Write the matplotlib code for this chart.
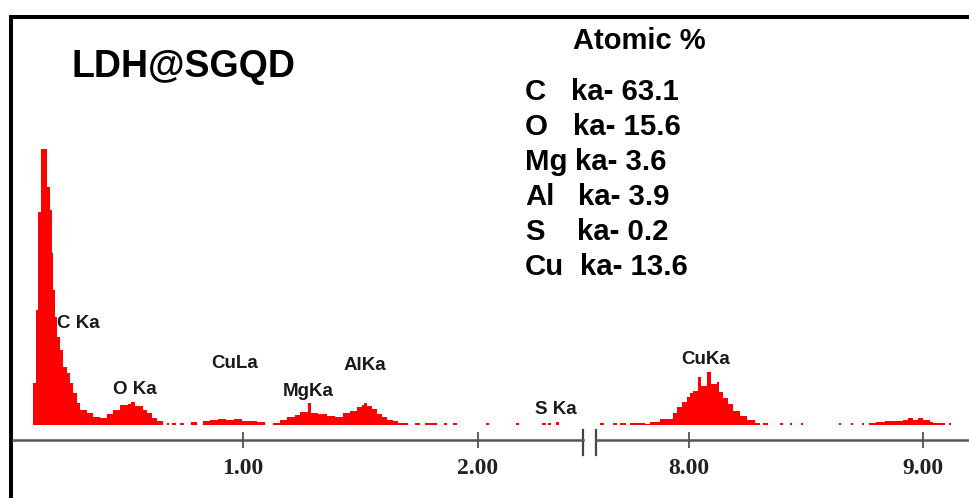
import matplotlib
matplotlib.use("Agg")
import matplotlib.pyplot as plt

plt.rcParams['font.family'] = ['Liberation Sans', 'DejaVu Sans']

# EDS spectrum, low energy part (keV start of each step, counts)
low_kev = [0.106, 0.119, 0.128, 0.140, 0.166, 0.179, 0.187, 0.191, 0.200, 0.209,
           0.221, 0.234, 0.251, 0.264, 0.277, 0.294, 0.306, 0.336, 0.362, 0.391,
           0.421, 0.447, 0.477, 0.511, 0.523, 0.540, 0.574, 0.591, 0.613, 0.634,
           0.660, 0.677, 0.685, 0.698, 0.715, 0.732, 0.749, 0.779, 0.804, 0.830,
           0.860, 0.894, 0.928, 0.962, 0.996, 1.030, 1.060, 1.094, 1.128, 1.157,
           1.187, 1.221, 1.243, 1.277, 1.289, 1.319, 1.357, 1.391, 1.426, 1.455,
           1.485, 1.506, 1.515, 1.528, 1.549, 1.570, 1.591, 1.613, 1.638, 1.660,
           1.702, 1.732, 1.753, 1.774, 1.826, 1.855, 1.868, 1.894, 1.911, 2.034,
           2.047, 2.162, 2.174, 2.272, 2.289, 2.298, 2.311, 2.332, 2.345, 2.449]
low_counts = [42, 115, 213, 276, 238, 215, 172, 135, 108, 88,
              75, 58, 52, 42, 32, 22, 15, 12, 8, 7,
              11, 15, 20, 21, 23, 19, 15, 12, 7, 4,
              0, 2, 0, 2, 0, 2, 0, 3, 0, 4,
              5, 6, 5, 6, 4, 4, 3, 0, 2, 5,
              8, 10, 13, 22, 12, 11, 9, 8, 12, 14,
              18, 20, 22, 19, 16, 11, 8, 5, 4, 2,
              0, 2, 0, 2, 0, 2, 0, 2, 0, 2,
              0, 2, 0, 2, 0, 2, 0, 3, 0, 0]

# high energy part (after the axis break)
high_kev = [7.620, 7.637, 7.675, 7.692, 7.705, 7.731, 7.748, 7.812, 7.834, 7.876,
            7.932, 7.949, 7.970, 7.991, 8.004, 8.017, 8.038, 8.051, 8.077, 8.094,
            8.120, 8.128, 8.145, 8.166, 8.188, 8.218, 8.248, 8.282, 8.303, 8.316,
            8.338, 8.389, 8.402, 8.432, 8.440, 8.479, 8.487, 8.641, 8.650, 8.692,
            8.701, 8.739, 8.748, 8.769, 8.799, 8.838, 8.880, 8.915, 8.936, 8.957,
            8.979, 9.000, 9.030, 9.043, 9.094, 9.111, 9.120, 9.195]
high_counts = [2, 0, 2, 0, 2, 0, 2, 1, 3, 6,
               12, 18, 23, 28, 32, 34, 48, 39, 53, 41,
               43, 33, 27, 21, 14, 9, 5, 2, 0, 2,
               0, 2, 0, 2, 0, 2, 0, 2, 0, 2,
               0, 2, 0, 2, 3, 4, 4, 5, 7, 5,
               7, 5, 3, 2, 0, 2, 0, 0]

low_ticks = [1.0, 2.0]
low_ticklabels = ["1.00", "2.00"]
high_ticks = [8.0, 9.0]
high_ticklabels = ["8.00", "9.00"]

# peak labels: (text, keV, counts, which axis)
peak_labels = [("C Ka", 0.210, 102, 0), ("O Ka", 0.448, 36, 0), ("CuLa", 0.866, 62, 0),
               ("MgKa", 1.171, 34, 0), ("AlKa", 1.427, 59, 0), ("S Ka", 2.244, 16, 0),
               ("CuKa", 7.966, 66, 1)]

elements = ["C", "O", "Mg", "Al", "S", "Cu"]
atomic_pct = ["63.1", "15.6", "3.6", "3.9", "0.2", "13.6"]

W, H = 969, 498
fig = plt.figure(figsize=(W / 100, H / 100), dpi=100)


def fx(px):
    return px / W


def fy(py):
    return 1 - py / H


# outer frame (left and top only)
frame = fig.add_axes([fx(11.3), 0, 1 - fx(11.3), fy(16.7)])
frame.set_xticks([])
frame.set_yticks([])
frame.patch.set_alpha(0)
for s in ["right", "bottom"]:
    frame.spines[s].set_visible(False)
for s in ["left", "top"]:
    frame.spines[s].set_linewidth(2.9)
    frame.spines[s].set_color("black")

ax_bottom = fy(440)
ax_h = fy(16.7) - ax_bottom
ax1 = fig.add_axes([fx(13), ax_bottom, fx(583.3) - fx(13), ax_h])
ax2 = fig.add_axes([fx(595.7), ax_bottom, 1 - fx(595.7), ax_h])

ax1.fill_between(low_kev, 0, low_counts, step="post", color="#ff0000", lw=0)
ax2.fill_between(high_kev, 0, high_counts, step="post", color="#ff0000", lw=0)

ax1.set_xlim((13 - 7.7) / 235, (583.3 - 7.7) / 235)
ax2.set_xlim(8 + (595.7 - 689) / 234.3, 8 + (969 - 689) / 234.3)

ymax = 425 - 16.7
for ax, ticks, labels in [(ax1, low_ticks, low_ticklabels), (ax2, high_ticks, high_ticklabels)]:
    ax.set_ylim(-15, ymax)
    ax.patch.set_alpha(0)
    for s in ["left", "right", "top"]:
        ax.spines[s].set_visible(False)
    ax.spines["bottom"].set_color("#555555")
    ax.spines["bottom"].set_linewidth(1.8)
    ax.set_yticks([])
    ax.set_xticks(ticks)
    ax.set_xticklabels(labels, family="Liberation Serif", fontweight="bold",
                       fontsize=17, color="#222222")
    ax.tick_params(axis="x", direction="inout", length=11.5, width=1.2,
                   color="#444444", pad=7.5)

# axis break marks
axh_px = 440 - 16.7
for ax, xpos in [(ax1, 1), (ax2, 0)]:
    ax.plot([xpos, xpos], [-15 / axh_px, 10 / axh_px], transform=ax.transAxes,
            color="#444444", lw=1.6, clip_on=False)

for text, kev, cnt, which in peak_labels:
    ax = ax1 if which == 0 else ax2
    ax.text(kev, cnt, text, ha="left", va="center", fontsize=13.5,
            fontweight="bold", color="#1a1a1a")

fig.text(fx(72), fy(76.7), "LDH@SGQD", fontsize=27, fontweight="bold",
         ha="left", va="baseline")
fig.text(fx(573.3), fy(49.3), "Atomic %", fontsize=21, fontweight="bold",
         ha="left", va="baseline")

ka_x = [570.7, 572.7, 575, 578.3, 577.3, 580]
for i, (el, val) in enumerate(zip(elements, atomic_pct)):
    yb = 100 + 35 * i
    fig.text(fx(525), fy(yb), el, fontsize=21.2, fontweight="bold",
             ha="left", va="baseline")
    fig.text(fx(ka_x[i]), fy(yb), "ka- " + val, fontsize=21.2, fontweight="bold",
             ha="left", va="baseline")

fig.savefig("out.png", dpi=100)
